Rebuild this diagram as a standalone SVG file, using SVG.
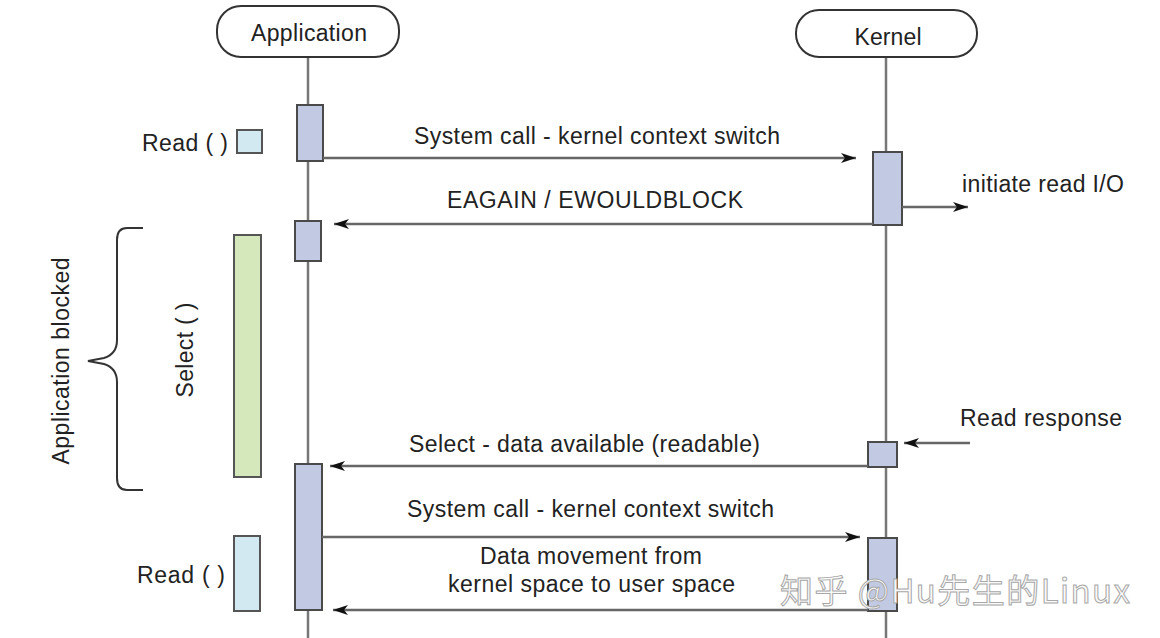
<svg xmlns="http://www.w3.org/2000/svg" width="1160" height="638" viewBox="0 0 1160 638">
<defs>
<marker id="ah" markerWidth="16" markerHeight="12" refX="15" refY="6" orient="auto" markerUnits="userSpaceOnUse">
<path d="M0,1 L15,6 L0,11 L4,6 z" fill="#111"/>
</marker>
<style>
text{font-family:"Liberation Sans",Arial,sans-serif;font-size:23px;fill:#222}
.life{stroke:#777;stroke-width:2.5;fill:none}
.head{fill:#fff;stroke:#333;stroke-width:2}
.act{fill:#c2cae3;stroke:#4a4a4a;stroke-width:2}
.blue{fill:#d3e9f1;stroke:#555;stroke-width:2}
.green{fill:#d5e8bc;stroke:#555;stroke-width:2}
.msg{stroke:#666;stroke-width:2.5;fill:none;marker-end:url(#ah)}
.wm{font-family:"Noto Sans CJK SC","Liberation Sans",sans-serif;font-size:33px;fill:#fafafa;stroke:#a8a8a8;stroke-width:1}
</style>
</defs>
<rect width="1160" height="638" fill="#fff"/>

<g id="lifelines">
<line class="life" x1="308" y1="57" x2="308" y2="638"/>
<line class="life" x1="886" y1="57" x2="886" y2="638"/>
</g>

<g id="application">
<rect class="head" x="217" y="6" width="182" height="51" rx="24"/>
<text x="309" y="41" text-anchor="middle" textLength="116">Application</text>
</g>

<g id="kernel">
<rect class="head" x="796" y="10" width="181" height="47" rx="23"/>
<text x="888" y="45" text-anchor="middle" textLength="67">Kernel</text>
</g>

<g id="app-activations">
<rect class="act" x="297" y="105" width="26" height="56"/>
<rect class="act" x="295" y="221" width="26" height="40"/>
<rect class="act" x="295" y="464" width="27" height="146"/>
</g>

<g id="kernel-activations">
<rect class="act" x="873" y="152" width="29" height="73"/>
<rect class="act" x="868" y="442" width="29" height="25"/>
<rect class="act" x="868" y="538" width="29" height="73"/>
</g>

<g id="read1">
<rect class="blue" x="237" y="130" width="25" height="23"/>
<text x="142" y="151" textLength="86">Read ( )</text>
</g>

<g id="select">
<rect class="green" x="234" y="235" width="27" height="242"/>
<text transform="translate(193,350) rotate(-90)" text-anchor="middle" textLength="95">Select ( )</text>
</g>

<g id="read2">
<rect class="blue" x="234" y="536" width="26" height="75"/>
<text x="137" y="583" textLength="88">Read ( )</text>
</g>

<g id="blocked">
<path d="M143,228 L127,228 Q117,228 117,240 L117,340 Q117,354 104,358 L88,361 L104,364 Q117,368 117,382 L117,478 Q117,490 127,490 L143,490" fill="none" stroke="#333" stroke-width="2"/>
<text transform="translate(69,361) rotate(-90)" text-anchor="middle" textLength="207">Application blocked</text>
</g>

<g id="connectors">
<line class="msg" x1="323" y1="158" x2="856" y2="158"/>
<line class="msg" x1="873" y1="224" x2="334" y2="224"/>
<line class="msg" x1="902" y1="207" x2="968" y2="207"/>
<line class="msg" x1="970" y1="443" x2="904" y2="443"/>
<line class="msg" x1="868" y1="466" x2="330" y2="466"/>
<line class="msg" x1="322" y1="537" x2="860" y2="537"/>
<line class="msg" x1="868" y1="610" x2="333" y2="610"/>
</g>

<g id="labels">
<text x="414" y="144" textLength="366">System call - kernel context switch</text>
<text x="447" y="208" textLength="296">EAGAIN / EWOULDBLOCK</text>
<text x="962" y="192" textLength="162">initiate read I/O</text>
<text x="960" y="426" textLength="162">Read response</text>
<text x="409" y="452" textLength="351">Select - data available (readable)</text>
<text x="407" y="517" textLength="367">System call - kernel context switch</text>
<text x="480" y="564" textLength="222">Data movement from</text>
<text x="448" y="592" textLength="287">kernel space to user space</text>
</g>

<text class="wm" x="780" y="603" textLength="350">知乎 @Hu先生的Linux</text>
</svg>
